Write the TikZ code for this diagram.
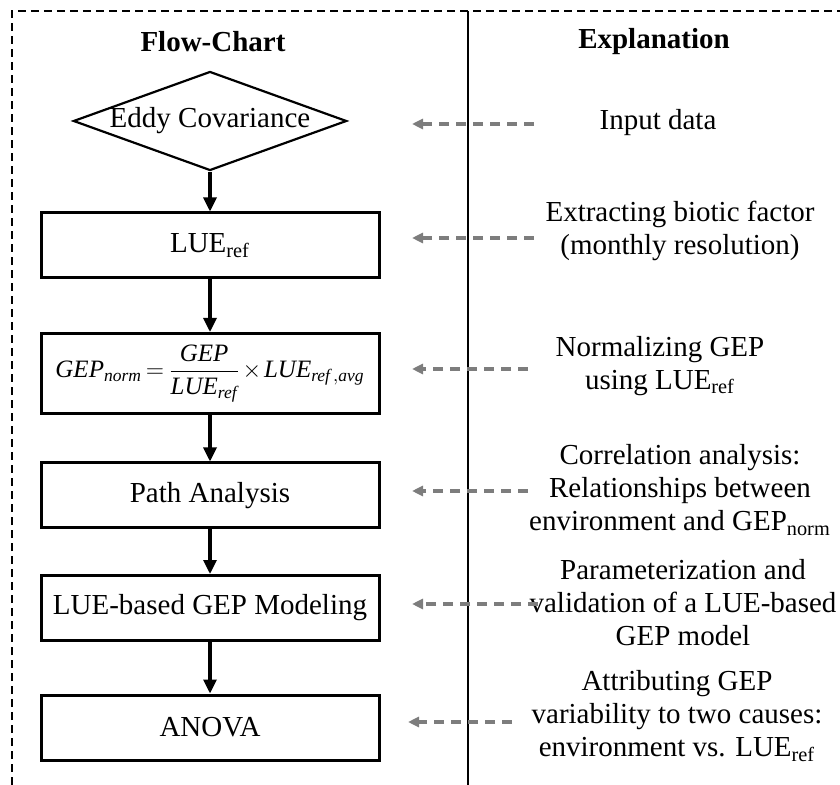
\documentclass[tikz,border=0pt]{standalone}
\usepackage{fontspec}
\setmainfont{Liberation Serif}
\usepackage{amsmath}
\usepackage{tikz}
\usetikzlibrary{
    shapes.geometric,
    arrows.meta
}
\definecolor{hintgray}{RGB}{125, 125, 125}
\newcommand{\chartfont}{\fontsize{14.5}{16.5}\selectfont}
\newcommand{\formulafont}{\fontsize{12.5}{15}\selectfont}
\tikzstyle{frame} = [
    line width=1pt,
    dash pattern=on 4pt off 2.5pt
]
\tikzstyle{flowbox} = [
    rectangle,
    draw,
    line width=1.5pt,
    minimum width=169pt,
    minimum height=32.5pt,
    inner sep=2pt,
    font=\chartfont
]
\tikzstyle{source} = [
    diamond,
    draw,
    line width=1.1pt,
    aspect=2.76,
    minimum width=131pt,
    minimum height=47.5pt,
    inner sep=0pt,
    font=\chartfont
]
\tikzstyle{note} = [
    align=center,
    font=\chartfont
]
\tikzstyle{flow} = [
    -{Triangle[length=7pt, width=6.5pt]},
    line width=1.6pt
]
\tikzstyle{hint} = [
    -{Triangle[length=5.5pt, width=5pt]},
    hintgray,
    line width=1.8pt,
    dash pattern=on 5pt off 3.5pt
]

\begin{document}
\begin{tikzpicture}[x=0.5pt, y=-0.5pt]
    \useasboundingbox (0,0) rectangle (840,785);

    % Dashed frame and column divider
    \draw[frame] (12,785) -- (12,11) -- (840,11);
    \draw[line width=0.75pt] (468,11) -- (468,785);

    % Column headings
    \node[font=\chartfont\bfseries] (hflow) at (213,42) {Flow-Chart};
    \node[font=\chartfont\bfseries] (hexpl) at (654,42) {Explanation};

    % Flow chart
    \node[source] (eddy) at (210,121) {Eddy Covariance};
    \node[flowbox] (lue) at (210,245.5) {LUE\textsubscript{ref}};
    \node[flowbox, minimum height=40pt, font=\formulafont] (gepnorm) at (210,373.5)
        {\thickmuskip=3mu \medmuskip=2mu
         $\textit{GEP}_{\textit{norm}}=\dfrac{\textit{GEP}}{\textit{LUE}_{\textit{ref}}}\times\textit{LUE}_{\textit{ref}\,,\textit{avg}}$};
    \node[flowbox] (path) at (210,495.5) {Path Analysis};
    \node[flowbox] (model) at (210,608) {LUE-based GEP Modeling};
    \node[flowbox] (anova) at (210,727.5) {ANOVA};

    \draw[flow] (eddy.south) -- (lue.north);
    \draw[flow] (lue.south) -- (gepnorm.north);
    \draw[flow] (gepnorm.south) -- (path.north);
    \draw[flow] (path.south) -- (model.north);
    \draw[flow] (model.south) -- (anova.north);

    % Explanations
    \node[note] (inp) at (658,123) {Input data};
    \node[note] (extr) at (680,231) {Extracting biotic factor\\(monthly resolution)};
    \node[note] (normtxt) at (660,366) {Normalizing GEP\\using LUE\textsubscript{ref}};
    \node[note] (corr) at (680,490) {Correlation analysis:\\Relationships between\\environment and GEP\textsubscript{norm}};
    \node[note] (param) at (683,603) {Parameterization and\\validation of a LUE-based\\GEP model};
    \node[note] (attr) at (677,716) {Attributing GEP\\variability to two causes:\\environment vs. LUE\textsubscript{ref}};

    % Pointers back to the chart
    \coordinate (tail1) at (534,124);  \coordinate (tip1) at (412,124);
    \coordinate (tail2) at (534,238);  \coordinate (tip2) at (412,238);
    \coordinate (tail3) at (528,369);  \coordinate (tip3) at (412,369);
    \coordinate (tail4) at (528,491);  \coordinate (tip4) at (412,491);
    \coordinate (tail5) at (538,604);  \coordinate (tip5) at (412,604);
    \coordinate (tail6) at (512,722);  \coordinate (tip6) at (408,722);
    \draw[hint] (tail1) -- (tip1);
    \draw[hint] (tail2) -- (tip2);
    \draw[hint] (tail3) -- (tip3);
    \draw[hint] (tail4) -- (tip4);
    \draw[hint] (tail5) -- (tip5);
    \draw[hint] (tail6) -- (tip6);
\end{tikzpicture}
\end{document}
